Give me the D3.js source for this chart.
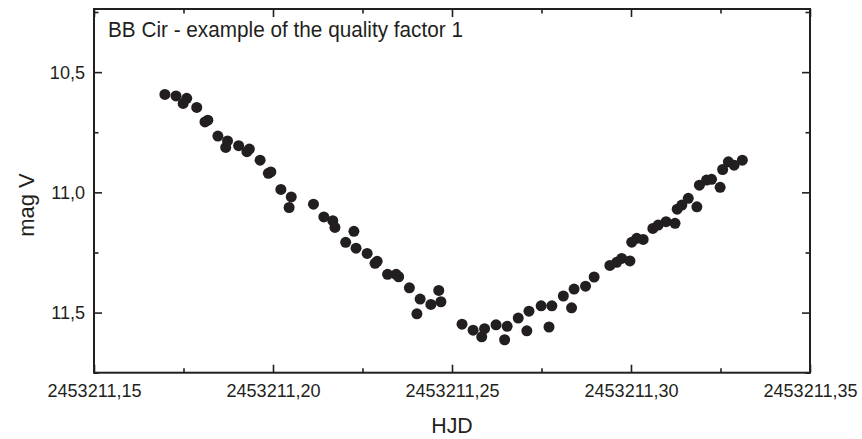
<!DOCTYPE html>
<html><head><meta charset="utf-8">
<script src="https://cdn.jsdelivr.net/npm/d3@7"></script>
<style>
body{margin:0;background:#fff}
text{font-family:"Liberation Sans",Arial,Helvetica,sans-serif;fill:#231f20}
</style>
</head><body>
<svg id="c" width="862" height="439"></svg>
<script>
const hjd = [
2453211.1698,2453211.1729,2453211.1749,2453211.1759,2453211.1787,2453211.1810,2453211.1818,2453211.1846,2453211.1868,2453211.1873,
2453211.1904,2453211.1927,2453211.1934,2453211.1964,2453211.1987,2453211.1994,2453211.2022,2453211.2045,2453211.2051,2453211.2113,
2453211.2142,2453211.2167,2453211.2173,2453211.2203,2453211.2226,2453211.2232,2453211.2263,2453211.2285,2453211.2291,2453211.2320,
2453211.2344,2453211.2351,2453211.2381,2453211.2402,2453211.2411,2453211.2441,2453211.2463,2453211.2469,2453211.2528,2453211.2559,
2453211.2583,2453211.2591,2453211.2623,2453211.2647,2453211.2654,2453211.2685,2453211.2709,2453211.2715,2453211.2749,2453211.2771,
2453211.2779,2453211.2811,2453211.2834,2453211.2841,2453211.2873,2453211.2897,2453211.2941,2453211.2960,2453211.2974,2453211.2997,
2453211.3002,2453211.3016,2453211.3034,2453211.3061,2453211.3076,2453211.3098,2453211.3123,2453211.3129,2453211.3142,2453211.3160,
2453211.3184,2453211.3191,2453211.3211,2453211.3225,2453211.3249,2453211.3256,2453211.3272,2453211.3288,2453211.3311
];
const magV = [
10.593,10.599,10.630,10.609,10.647,10.707,10.700,10.766,10.813,10.786,
10.806,10.831,10.820,10.866,10.921,10.915,10.988,11.063,11.019,11.049,
11.102,11.118,11.146,11.208,11.162,11.232,11.254,11.295,11.287,11.341,
11.341,11.351,11.397,11.505,11.444,11.466,11.408,11.455,11.548,11.573,
11.601,11.567,11.551,11.613,11.557,11.523,11.576,11.494,11.472,11.560,
11.472,11.431,11.480,11.402,11.390,11.352,11.304,11.291,11.275,11.285,
11.207,11.191,11.196,11.150,11.136,11.122,11.129,11.070,11.053,11.025,
11.060,10.970,10.949,10.946,10.979,10.905,10.873,10.887,10.866
];
const xTickValues = [2453211.15, 2453211.20, 2453211.25, 2453211.30, 2453211.35];
const xTickLabels = ["2453211,15","2453211,20","2453211,25","2453211,30","2453211,35"];
const xMinorTicks = [2453211.175, 2453211.225, 2453211.275, 2453211.325];
const yTickValues = [10.5, 11.0, 11.5];
const yTickLabels = ["10,5","11,0","11,5"];
const yMinorTicks = [10.25, 10.75, 11.25, 11.75];
const titleText = "BB Cir - example of the quality factor 1";
const xTitle = "HJD";
const yTitle = "mag V";

const ink = "#231f20";
const L = 94, R = 810, T = 9, B = 372.7;
const svg = d3.select("#c");
const x = d3.scaleLinear().domain([2453211.15, 2453211.35]).range([L, R]);
const y = d3.scaleLinear().domain([10.2375, 11.75]).range([T, B]);

function condense(sel, f){
  sel.each(function(){
    const w = this.getComputedTextLength();
    this.setAttribute("textLength", w*f);
    this.setAttribute("lengthAdjust","spacingAndGlyphs");
  });
}
function styleAxis(g){
  g.select(".domain").remove();
  g.selectAll(".tick line").attr("stroke", ink).attr("stroke-width", 1.6);
  g.selectAll(".tick text").attr("font-size", 19).attr("font-family", null).style("fill", ink);
}

// bottom
const gb = svg.append("g").attr("transform", `translate(0,${B})`)
  .call(d3.axisBottom(x).tickValues(xTickValues).tickSize(-8).tickPadding(10.5)
    .tickFormat((d,i)=>xTickLabels[i]));
styleAxis(gb); condense(gb.selectAll(".tick text"), 0.95);
const gbm = svg.append("g").attr("transform", `translate(0,${B})`)
  .call(d3.axisBottom(x).tickValues(xMinorTicks).tickSize(-4.5).tickFormat(""));
styleAxis(gbm);
// top
const gt = svg.append("g").attr("transform", `translate(0,${T})`)
  .call(d3.axisTop(x).tickValues(xTickValues).tickSize(-8).tickFormat(""));
styleAxis(gt);
const gtm = svg.append("g").attr("transform", `translate(0,${T})`)
  .call(d3.axisTop(x).tickValues(xMinorTicks).tickSize(-4.5).tickFormat(""));
styleAxis(gtm);
// left
const gl = svg.append("g").attr("transform", `translate(${L},0)`)
  .call(d3.axisLeft(y).tickValues(yTickValues).tickSize(-8).tickPadding(9)
    .tickFormat((d,i)=>yTickLabels[i]));
styleAxis(gl); condense(gl.selectAll(".tick text"), 0.95);
const glm = svg.append("g").attr("transform", `translate(${L},0)`)
  .call(d3.axisLeft(y).tickValues(yMinorTicks).tickSize(-4.5).tickFormat(""));
styleAxis(glm);
// right
const gr = svg.append("g").attr("transform", `translate(${R},0)`)
  .call(d3.axisRight(y).tickValues(yTickValues).tickSize(-8).tickFormat(""));
styleAxis(gr);
const grm = svg.append("g").attr("transform", `translate(${R},0)`)
  .call(d3.axisRight(y).tickValues(yMinorTicks).tickSize(-4.5).tickFormat(""));
styleAxis(grm);

// frame
svg.append("rect").attr("x", L).attr("y", T).attr("width", R-L).attr("height", B-T)
  .attr("fill","none").attr("stroke", ink).attr("stroke-width", 2);

// points
svg.append("g").selectAll("circle").data(hjd).join("circle")
  .attr("cx", d=>x(d)).attr("cy", (d,i)=>y(magV[i])).attr("r", 5.5).attr("fill", ink);

// title
const t = svg.append("text").attr("x", 108).attr("y", 37.3).attr("font-size", 22).text(titleText);
t.attr("textLength", 355).attr("lengthAdjust","spacingAndGlyphs");

// axis titles
const hx = svg.append("text").attr("x", (L+R)/2).attr("y", 433).attr("text-anchor","middle")
  .attr("font-size", 22).text(xTitle);
condense(hx, 0.97);
svg.append("text").attr("transform", `translate(34,205) rotate(-90)`).attr("text-anchor","middle")
  .attr("font-size", 22).text(yTitle);
</script>
</body></html>
